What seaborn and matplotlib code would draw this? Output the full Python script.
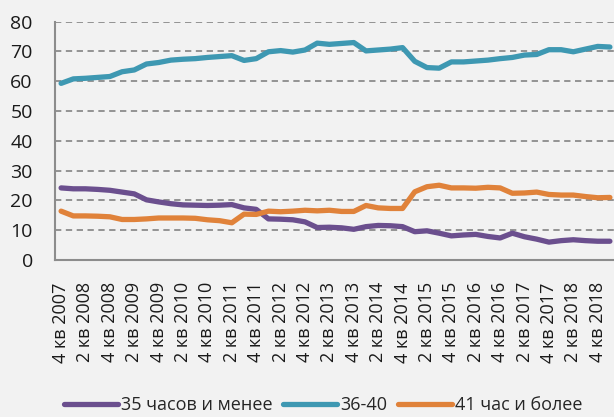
import numpy as np
import pandas as pd
import matplotlib
matplotlib.use("Agg")
import matplotlib.pyplot as plt
import seaborn as sns

# quarters 4 кв 2007 ... 1 кв 2019
quarters = ["4 кв 2007"] + [f"{q} кв {y}" for y in range(2008, 2019) for q in (1, 2, 3, 4)] + ["1 кв 2019"]

series_names = ["35 часов и менее", "36-40", "41 час и более"]
colors = ["#6b4f8e", "#3e98b2", "#e0823a"]

le35 = [24.2, 23.9, 23.9, 23.7, 23.4, 22.8, 22.2, 20.2, 19.5, 18.9, 18.5, 18.4,
        18.3, 18.4, 18.6, 17.5, 17.0, 13.8, 13.7, 13.5, 12.8, 10.9, 11.0, 10.8,
        10.3, 11.2, 11.6, 11.5, 11.2, 9.5, 9.8, 9.0, 8.1, 8.4, 8.6, 7.9,
        7.4, 9.0, 7.8, 7.0, 6.0, 6.5, 6.8, 6.5, 6.3, 6.3]
h36_40 = [59.3, 60.8, 61.0, 61.3, 61.6, 63.2, 63.8, 65.8, 66.3, 67.1, 67.4, 67.6,
          68.0, 68.3, 68.6, 67.0, 67.6, 69.9, 70.3, 69.8, 70.5, 72.8, 72.4, 72.7,
          73.0, 70.2, 70.5, 70.8, 71.3, 66.7, 64.6, 64.4, 66.5, 66.5, 66.8, 67.1,
          67.6, 68.0, 68.8, 69.0, 70.6, 70.6, 69.9, 70.8, 71.7, 71.5]
ge41 = [16.4, 14.8, 14.8, 14.7, 14.5, 13.6, 13.6, 13.8, 14.1, 14.1, 14.1, 14.0,
        13.5, 13.2, 12.5, 15.4, 15.3, 16.4, 16.2, 16.4, 16.7, 16.5, 16.7, 16.3,
        16.3, 18.3, 17.5, 17.3, 17.3, 22.9, 24.6, 25.1, 24.2, 24.2, 24.1, 24.4,
        24.2, 22.4, 22.5, 22.8, 22.0, 21.8, 21.8, 21.3, 20.9, 21.0]

df = pd.DataFrame({
    "idx": list(range(len(quarters))) * 3,
    "value": le35 + h36_40 + ge41,
    "series": [series_names[0]] * len(le35) + [series_names[1]] * len(h36_40) + [series_names[2]] * len(ge41),
})

sns.set_style("white")
plt.rcParams["font.family"] = ["Open Sans", "DejaVu Sans"]

bg = "#f2f2f2"
fig = plt.figure(figsize=(6.14, 4.17), dpi=100, facecolor=bg)
ax = fig.add_axes([55 / 614, 1 - 260 / 417, 561 / 614, (260 - 21.7) / 417])
ax.set_facecolor(bg)

sns.lineplot(data=df, x="idx", y="value", hue="series", palette=colors,
             linewidth=3.8, ax=ax, solid_capstyle="round")

ax.set_xlim(-0.5, 45.5)
ax.set_ylim(0, 80)
ax.set_yticks(range(0, 81, 10))
ax.yaxis.grid(True, linestyle=(0, (3.5, 2.5)), color="#8c8c8c", linewidth=1.3)
ax.set_axisbelow(True)

ax.set_xticks(range(0, 45, 2))
ax.set_xticklabels(quarters[0:45:2], rotation=90, fontsize=13, color="#1a1a1a")
ax.set_xticks(np.arange(-0.5, 46, 1), minor=True)
ax.tick_params(axis="x", which="major", length=0, pad=16)
ax.tick_params(axis="x", which="minor", length=5, width=1.2, color="#8c8c8c", direction="out")
ax.tick_params(axis="y", length=5, width=1.2, color="#8c8c8c", pad=11, labelsize=14, labelcolor="#1a1a1a")

for s in ["top", "right"]:
    ax.spines[s].set_visible(False)
for s in ["left", "bottom"]:
    ax.spines[s].set_color("#8c8c8c")
    ax.spines[s].set_linewidth(1.5)
ax.set_xlabel("")
ax.set_ylabel("")

handles, labels = ax.get_legend_handles_labels()
ax.legend(handles, labels, loc="center", bbox_to_anchor=(323 / 614, 1 - 405 / 417),
          bbox_transform=fig.transFigure, ncol=3, frameon=False, fontsize=13,
          handlelength=3.0, handletextpad=0.15, columnspacing=0.6, borderaxespad=0)

fig.savefig("out.png", dpi=100, facecolor=bg)
